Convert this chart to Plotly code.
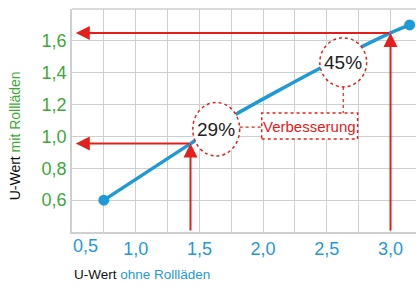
import plotly.graph_objects as go

# ---- data ----
u_ohne = [0.75, 1.43, 1.8, 2.45, 3.0, 3.15]      # U-Wert ohne Rollläden
u_mit = [0.6, 0.955, 1.145, 1.43, 1.65, 1.70]     # U-Wert mit Rollläden
end_x = [0.75, 3.15]
end_y = [0.6, 1.70]
x_ticks = [1.0, 1.5, 2.0, 2.5, 3.0]
x_ticktext = ["1,0", "1,5", "2,0", "2,5", "3,0"]
y_ticks = [0.6, 0.8, 1.0, 1.2, 1.4, 1.6]
y_ticktext = ["0,6", "0,8", "1,0", "1,2", "1,4", "1,6"]
marked_x = [1.43, 3.0]
marked_y = [0.955, 1.65]
pct_labels = ["29%", "45%"]

BLUE = "#1e9ad6"
GREEN = "#3aaa35"
RED = "#e3201b"
GRID = "#cfcfcf"
FONT = "Liberation Sans, Arial, sans-serif"

fig = go.Figure()
fig.add_trace(go.Scatter(x=u_ohne, y=u_mit, mode="lines",
                         line=dict(color=BLUE, width=3.5, shape="spline", smoothing=0.6),
                         hoverinfo="skip"))
fig.add_trace(go.Scatter(x=end_x, y=end_y, mode="markers",
                         marker=dict(color=BLUE, size=11), hoverinfo="skip"))

annotations = []
shapes = []
# red arrows
for mx, my in zip(marked_x, marked_y):
    annotations.append(dict(x=mx, y=my, ax=mx, ay=0.4, xref="x", yref="y", axref="x", ayref="y",
                            text="", showarrow=True, arrowhead=2, arrowsize=1.4, arrowwidth=2,
                            arrowcolor=RED, standoff=0))
    annotations.append(dict(x=0.53, y=my, ax=mx, ay=my, xref="x", yref="y", axref="x", ayref="y",
                            text="", showarrow=True, arrowhead=2, arrowsize=1.4, arrowwidth=2,
                            arrowcolor=RED, standoff=0))

# dotted circles with percentages
circles = [(1.632, 1.045, 0.184, 0.168), (2.629, 1.465, 0.184, 0.154)]
for (cx, cy, rx, ry), lab in zip(circles, pct_labels):
    shapes.append(dict(type="circle", xref="x", yref="y", x0=cx - rx, x1=cx + rx, y0=cy - ry, y1=cy + ry,
                       line=dict(color=RED, width=1.5, dash="dot"), fillcolor="white", layer="above"))
    annotations.append(dict(x=cx, y=cy, xref="x", yref="y", text=lab, showarrow=False,
                            font=dict(family=FONT, size=19, color="#222222")))

# Verbesserung box and connectors
shapes.append(dict(type="rect", xref="x", yref="y", x0=1.989, x1=2.742, y0=0.984, y1=1.147,
                   line=dict(color=RED, width=1.5, dash="dot"), fillcolor="white", layer="above"))
shapes.append(dict(type="line", xref="x", yref="y", x0=1.816, x1=1.989, y0=1.059, y1=1.059,
                   line=dict(color=RED, width=1.2, dash="dot"), layer="above"))
shapes.append(dict(type="line", xref="x", yref="y", x0=2.629, x1=2.629, y0=1.311, y1=1.147,
                   line=dict(color=RED, width=1.2, dash="dot"), layer="above"))
annotations.append(dict(x=2.365, y=1.065, xref="x", yref="y", text="Verbesserung", showarrow=False,
                        font=dict(family=FONT, size=15, color=RED)))

# first x tick label (offset right as in the original)
annotations.append(dict(x=0.5, y=0, xref="x", yref="paper", text="0,5", showarrow=False,
                        xshift=13, yanchor="top", yshift=-2, font=dict(family=FONT, size=18, color=BLUE)))

# axis titles
annotations.append(dict(x=0, y=-0.19, xref="paper", yref="paper", xanchor="left", yanchor="middle",
                        text="U-Wert <span style='color:%s'>ohne Rollläden</span>" % BLUE,
                        showarrow=False, font=dict(family=FONT, size=13.5, color="#111111")))
annotations.append(dict(x=-0.165, y=0.43, xref="paper", yref="paper", textangle=-90,
                        xanchor="center", yanchor="middle",
                        text="U-Wert <span style='color:%s'>mit Rollläden</span>" % GREEN,
                        showarrow=False, font=dict(family=FONT, size=14, color="#111111")))

fig.update_layout(
    width=416, height=287, margin=dict(l=72, r=0, t=9, b=55, autoexpand=False),
    paper_bgcolor="white", plot_bgcolor="white", showlegend=False,
    shapes=shapes, annotations=annotations,
    xaxis=dict(range=[0.5, 3.2], tickvals=x_ticks, ticktext=x_ticktext, showgrid=True, automargin=False,
               gridcolor=GRID, gridwidth=1.2, showline=True, linecolor=GRID, linewidth=1.5,
               ticks="", zeroline=False, tickfont=dict(family=FONT, size=18, color=BLUE),
               minor=dict(dtick=0.25, tick0=0.5, showgrid=True, gridcolor=GRID, gridwidth=1.2)),
    yaxis=dict(range=[0.4, 1.8], tickvals=y_ticks, ticktext=y_ticktext, showgrid=True, automargin=False,
               gridcolor=GRID, gridwidth=1.2, showline=True, linecolor=GRID, linewidth=1.5,
               ticks="", zeroline=False, tickfont=dict(family=FONT, size=18, color=GREEN),
               minor=dict(dtick=0.2, tick0=0.4, showgrid=True, gridcolor=GRID, gridwidth=1.2)),
)
fig.add_shape(type="line", xref="paper", yref="paper", x0=0, x1=1, y0=1, y1=1,
              line=dict(color=GRID, width=1.5), layer="below")

fig.write_html("out.html", config={"displayModeBar": False},
               post_script="document.body.style.margin='0';document.body.style.overflow='hidden';")
